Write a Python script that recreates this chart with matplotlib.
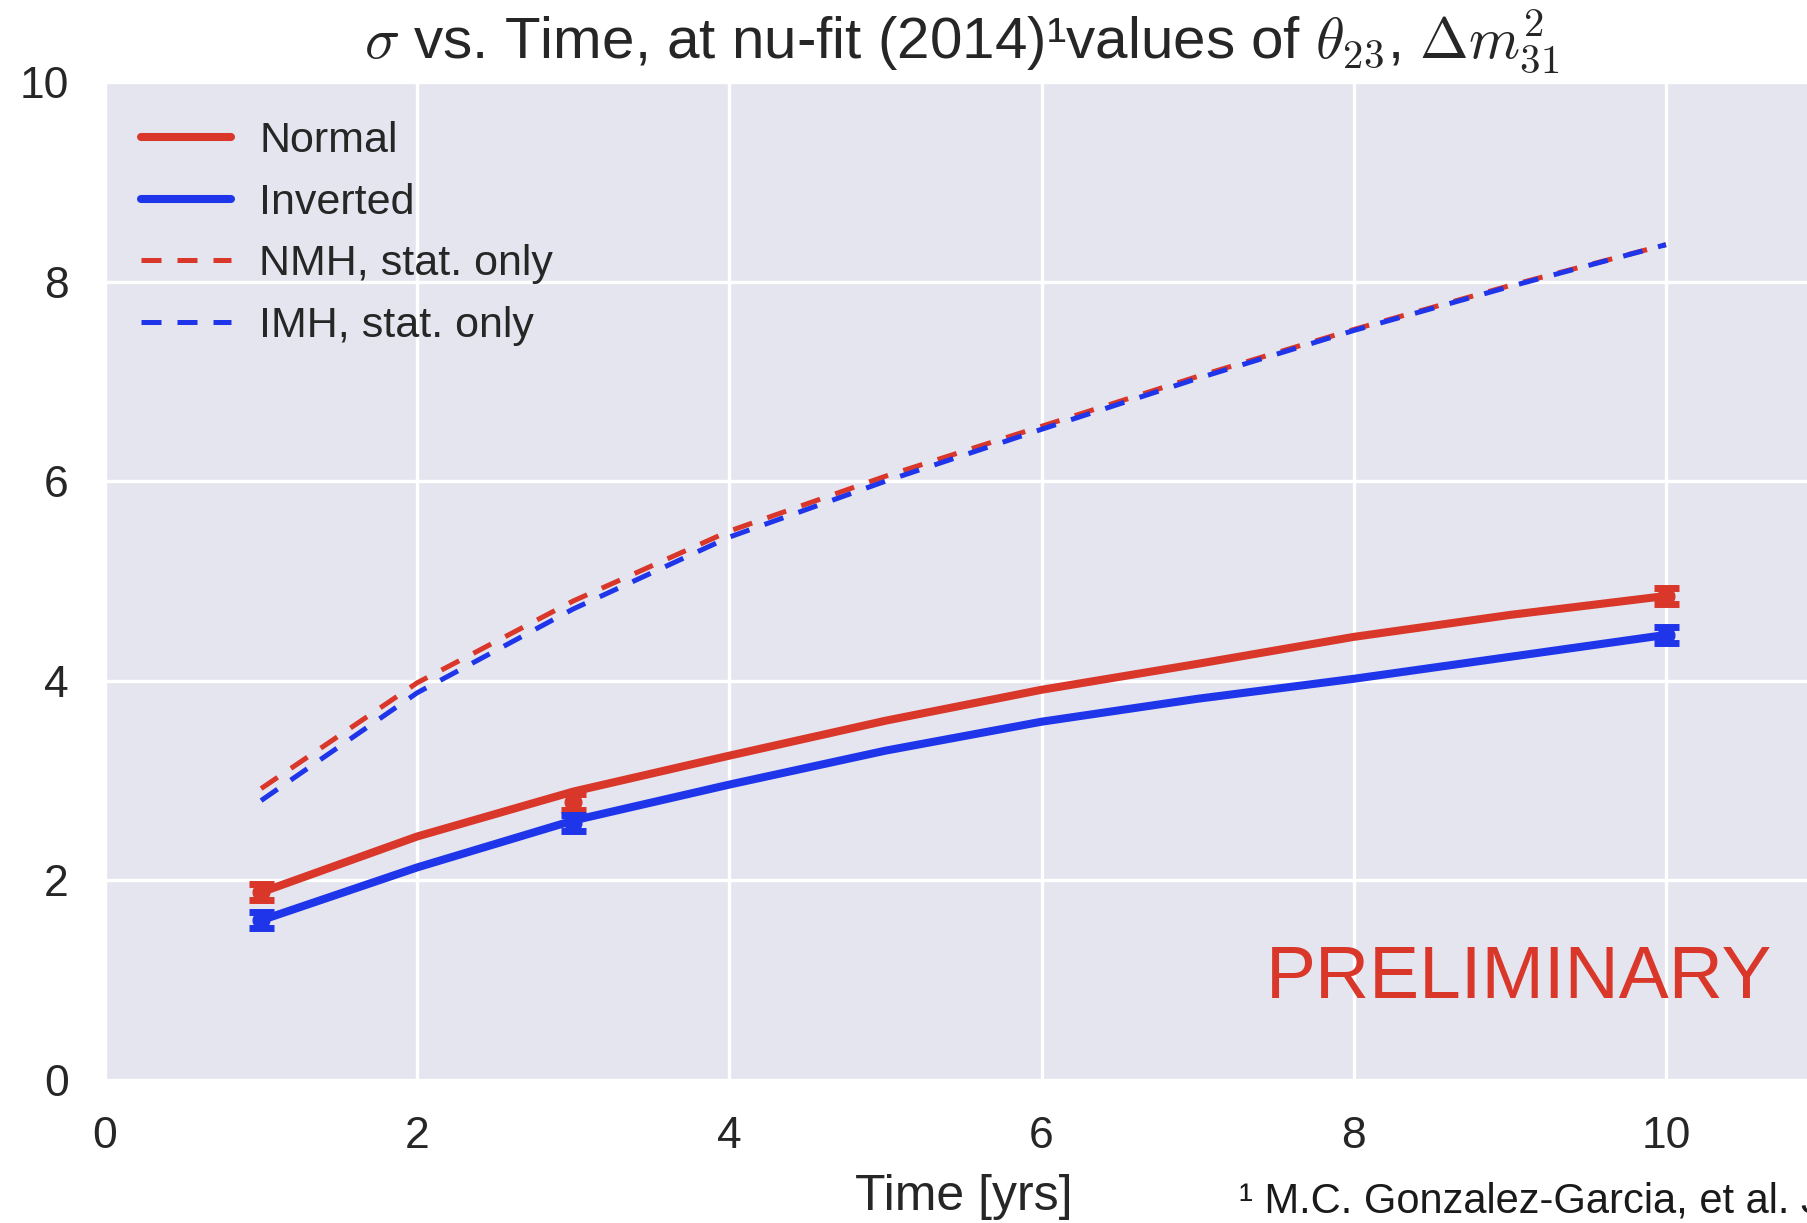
import matplotlib
matplotlib.use("Agg")
import matplotlib.pyplot as plt
import seaborn as sns

# ---- data ----
t_curve = [1, 2, 3, 4, 5, 6, 7, 8, 9, 10]
normal_curve = [1.88, 2.44, 2.89, 3.25, 3.60, 3.91, 4.17, 4.44, 4.66, 4.85]
inverted_curve = [1.60, 2.13, 2.60, 2.96, 3.30, 3.59, 3.82, 4.02, 4.24, 4.46]
nmh_stat = [2.92, 3.98, 4.80, 5.50, 6.05, 6.55, 7.05, 7.52, 7.96, 8.37]
imh_stat = [2.80, 3.88, 4.72, 5.44, 6.00, 6.52, 7.03, 7.51, 7.95, 8.37]

t_points = [1, 3, 10]
normal_points = [1.88, 2.79, 4.85]
normal_err = [0.08, 0.08, 0.08]
inverted_points = [1.60, 2.58, 4.46]
inverted_err = [0.08, 0.08, 0.08]

x_ticks = [0, 2, 4, 6, 8, 10]
y_ticks = [0, 2, 4, 6, 8, 10]

RED = "#d9372a"
BLUE = "#1f35ea"

sns.set_theme(style="darkgrid")
plt.rcParams["font.family"] = ["Liberation Sans", "DejaVu Sans"]
plt.rcParams["mathtext.fontset"] = "cm"

fig = plt.figure(figsize=(18.07, 12.23), dpi=100)
ax = fig.add_axes([105 / 1807, 143 / 1223, 1717 / 1807, 998 / 1223])
ax.set_facecolor("#e5e5ef")
ax.grid(color="white", linewidth=2.4)

ax.plot(t_curve, normal_curve, color=RED, lw=5.8, label="Normal", solid_capstyle="round")
ax.plot(t_curve, inverted_curve, color=BLUE, lw=5.8, label="Inverted", solid_capstyle="round")
ax.plot(t_curve, nmh_stat, color=RED, lw=3.6, ls=(0, (4, 3.2)), label="NMH, stat. only")
ax.plot(t_curve, imh_stat, color=BLUE, lw=3.6, ls=(0, (4, 3.2)), label="IMH, stat. only")

ax.errorbar(t_points, normal_points, yerr=normal_err, fmt="o", color=RED, ms=12,
            elinewidth=5, capsize=9, capthick=5, zorder=5)
ax.errorbar(t_points, inverted_points, yerr=inverted_err, fmt="o", color=BLUE, ms=12,
            elinewidth=5, capsize=9, capthick=5, zorder=5)

ax.set_xlim(0, 11)
ax.set_ylim(0, 10)
ax.set_xticks(x_ticks)
ax.set_yticks(y_ticks)
ax.tick_params(axis="both", labelsize=32, colors="#262626", pad=20)
ax.set_xlabel("Time [yrs]", fontsize=36, color="#262626", labelpad=12)

leg = ax.legend(loc="upper left", bbox_to_anchor=(-0.0067, 1.008), fontsize=31,
                frameon=False, handlelength=2.1, labelspacing=0.5,
                borderaxespad=0.7, handletextpad=0.65)
for txt in leg.get_texts():
    txt.set_color("#262626")

fig.text(962 / 1807, 1 - 58 / 1223,
         r"$\sigma$ vs. Time, at nu-fit (2014)¹values of $\theta_{23}$, $\Delta m^2_{31}$",
         ha="center", va="baseline", fontsize=42, color="#262626")

fig.text(0.981, 1 - 978 / 1223, "PRELIMINARY", ha="right", va="center",
         fontsize=54, color=RED)

fig.text(1239 / 1807, 1 - 1213 / 1223, "¹ M.C. Gonzalez-Garcia, et al. J",
         ha="left", va="baseline", fontsize=30, color="#1a1a1a")

fig.savefig("out.png", dpi=100)
